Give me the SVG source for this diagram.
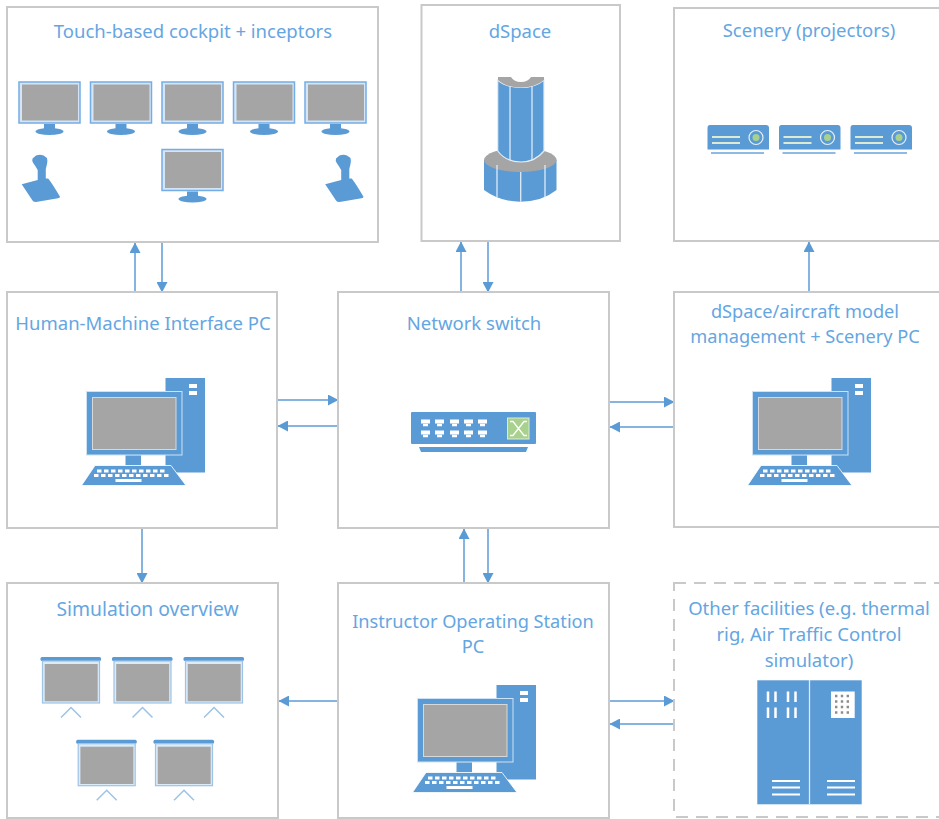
<svg xmlns="http://www.w3.org/2000/svg" width="939" height="819" viewBox="0 0 939 819">
<style>
.box{fill:#fff;stroke:#c9c9c9;stroke-width:2}
.dash{stroke-dasharray:12 8}
.t{font-family:"Noto Sans","Open Sans",sans-serif;font-size:18.5px;fill:#64a6e2;text-anchor:middle}
.b{fill:#5b9bd5}
.g{fill:#a5a5a5}
.c{stroke:#5b9bd5;stroke-width:1.5;fill:none;marker-end:url(#ah)}
.w{fill:#fff}
.chev{stroke:#9dc3e6;stroke-width:1.5;fill:none}
</style>
<defs>
<marker id="ah" markerUnits="userSpaceOnUse" markerWidth="11" markerHeight="11" refX="10" refY="5.500" orient="auto"><path d="M0 0L10.500 5.500L0 11z" fill="#5b9bd5"/></marker>
<g id="mon">
<rect x="19" y="82" width="61" height="41" fill="#d5e5f5" stroke="#74ade5" stroke-width="1.500"/>
<rect x="22" y="84.500" width="56" height="36" class="g"/>
<rect x="44" y="124" width="11" height="6" class="b"/>
<ellipse cx="49.500" cy="131.500" rx="14" ry="3.500" class="b"/>
</g>
<g id="joy">
<path class="b" d="M36 155.500Q40 154 43.500 155.500L47 158Q47.800 161 47 164L45.800 169V178.500L48 178.500Q50 180 60 196.700Q60 198 58 198.300L36 202Q33.500 202 32.500 200.500L21.700 184.300L37.700 180V170Q35.500 166 33.500 163.500Q31.500 161 32.500 158.500z"/>
</g>
<g id="proj">
<path class="b" d="M710 125H766Q769 125 769 128V149.500H707.500V128Q707.500 125 710 125z"/>
<path d="M712 137H740M712 143H740" stroke="#dcebd2" stroke-width="2"/>
<circle cx="756" cy="137.500" r="7" fill="none" stroke="#e6f0f8" stroke-width="1.200"/>
<circle cx="756" cy="137.500" r="3.500" fill="#a9d18e"/>
<path d="M711 153H764" stroke="#8dbbe6" stroke-width="1.800"/>
</g>
<g id="pc">
<rect x="165.500" y="378" width="39.500" height="94.500" class="b"/>
<rect x="189" y="384" width="8" height="4" class="w"/>
<rect x="189" y="391" width="8" height="4" class="w"/>
<rect x="86.500" y="391.500" width="95.500" height="63.500" class="b" stroke="#cfe2f5" stroke-width="1"/>
<rect x="92.500" y="397.500" width="83.500" height="52" class="g" stroke="#d8d8d8" stroke-width="1"/>
<rect x="125.500" y="455.500" width="15.500" height="10" class="b"/>
<path class="b" d="M95 465.500H171L186 485.500H81.500z" stroke="#fff" stroke-width="0.800"/>
<path d="M97 471H165M94 475.500H170" stroke="#fff" stroke-width="2.800" stroke-dasharray="4.500 2.500"/>
<rect x="115.500" y="479" width="26" height="3" class="w"/>
</g>
<g id="scr">
<rect x="40.500" y="657" width="60.500" height="4" rx="1.500" fill="#5b9bd5"/>
<rect x="42.500" y="661" width="57" height="42" fill="#dcebf8" stroke="#9dc3e6" stroke-width="1.200"/>
<rect x="44.700" y="664" width="53" height="37.300" class="g"/>
<path class="chev" d="M61 717.500L71 707.500L81 717.500"/>
</g>
</defs>

<g id="connectors">
<path class="c" d="M135 292V243"/>
<path class="c" d="M162 243V292"/>
<path class="c" d="M461 292V242"/>
<path class="c" d="M488 242V292"/>
<path class="c" d="M809 292V242"/>
<path class="c" d="M278 400H338"/>
<path class="c" d="M338 426H278"/>
<path class="c" d="M610 402H674"/>
<path class="c" d="M674 427H610"/>
<path class="c" d="M142 528V583"/>
<path class="c" d="M464 583V529"/>
<path class="c" d="M488 529V583"/>
<path class="c" d="M338 701H279"/>
<path class="c" d="M610 701H674"/>
<path class="c" d="M674 724H610"/>
</g>

<g id="cockpit">
<rect class="box" x="7" y="7" width="371" height="235"/>
<text class="t" x="193" y="38">Touch-based cockpit + inceptors</text>
<use href="#mon"/>
<use href="#mon" x="71.500"/>
<use href="#mon" x="143"/>
<use href="#mon" x="214.500"/>
<use href="#mon" x="286"/>
<use href="#mon" x="143" y="67.500"/>
<use href="#joy"/>
<use href="#joy" x="303.500"/>
</g>

<g id="dspace">
<rect class="box" x="421.500" y="5" width="198.500" height="236"/>
<text class="t" x="520" y="38">dSpace</text>
<path class="b" d="M484 160V190Q500 201.700 520 201.700Q542 201.700 556.500 190V160z"/>
<ellipse class="g" cx="520.300" cy="160" rx="36.300" ry="12"/>
<path d="M497 165V197M520.700 172V201.700M545 165V197" stroke="#dcebf8" stroke-width="1.300"/>
<path class="b" d="M497.700 80Q506 87.500 521 87.500Q535 87.500 544 80V151Q535 162 521 162Q506 162 497.700 151z" stroke="#e4eef8" stroke-width="1.200"/>
<path class="g" d="M498 77H511Q514 82 521 82Q528 82 531 77H544V80Q535 87.500 521 87.500Q506 87.500 498 80z"/>
<path d="M510 86V160.500M532 86V160.500" stroke="#dcebf8" stroke-width="1.300" fill="none"/>
</g>

<g id="scenery">
<rect class="box" x="674" y="8" width="270" height="233"/>
<text class="t" x="809" y="37">Scenery (projectors)</text>
<use href="#proj"/>
<use href="#proj" x="71.500"/>
<use href="#proj" x="143"/>
</g>

<g id="hmi">
<rect class="box" x="7" y="292" width="270" height="236"/>
<text class="t" x="143" y="330">Human-Machine Interface PC</text>
<use href="#pc"/>
</g>

<g id="switch">
<rect class="box" x="338" y="292" width="271" height="236"/>
<text class="t" x="474" y="330">Network switch</text>
<rect class="b" x="411" y="412" width="125" height="32" rx="1"/>
<path d="M421 421.500H430M435 421.500H444M450 421.500H459M464 421.500H473M478 421.500H487M421 432.500H430M435 432.500H444M450 432.500H459M464 432.500H473M478 432.500H487" stroke="#fff" stroke-width="4"/>
<path d="M423 425H428M437 425H442M452 425H457M466 425H471M480 425H485M423 436H428M437 436H442M452 436H457M466 436H471M480 436H485" stroke="#fff" stroke-width="2.500"/>
<rect x="507.500" y="418" width="21.500" height="21" fill="#a9d18e" stroke="#dcebd2" stroke-width="1"/>
<path d="M510 421.500H513L524 435.500H527M510 435.500H513L524 421.500H527" stroke="#fff" stroke-width="1.300" fill="none"/>
<path class="b" d="M419 447H528L526 452H421z"/>
</g>

<g id="management">
<rect class="box" x="674" y="292" width="270" height="235"/>
<text class="t" style="font-size:18.200px"><tspan x="805" y="318">dSpace/aircraft model</tspan><tspan x="805" y="343">management + Scenery PC</tspan></text>
<use href="#pc" x="666"/>
</g>

<g id="overview">
<rect class="box" x="7" y="583" width="271" height="235"/>
<text class="t" x="147.500" y="616" style="font-size:19.300px">Simulation overview</text>
<use href="#scr"/>
<use href="#scr" x="71.500"/>
<use href="#scr" x="143"/>
<use href="#scr" x="35.700" y="82.700"/>
<use href="#scr" x="113" y="82.700"/>
</g>

<g id="ios">
<rect class="box" x="338" y="583" width="271" height="235"/>
<text class="t" style="font-size:18.200px"><tspan x="473" y="628">Instructor Operating Station</tspan><tspan x="473" y="653">PC</tspan></text>
<use href="#pc" x="331" y="307"/>
</g>

<g id="other">
<rect class="box dash" x="674" y="583" width="270" height="234"/>
<text class="t"><tspan x="809" y="615">Other facilities (e.g. thermal</tspan><tspan x="809" y="641">rig, Air Traffic Control</tspan><tspan x="809" y="667">simulator)</tspan></text>
<rect class="b" x="757.300" y="680.300" width="104.400" height="124"/>
<path d="M809.500 680V804.300" stroke="#dcebf8" stroke-width="1.300"/>
<path d="M768 691.500V702M775.500 691.500V702M788 691.500V702M795.500 691.500V702M768 707.500V718M775.500 707.500V718M788 707.500V718M795.500 707.500V718" stroke="#fff" stroke-width="2.500"/>
<rect class="w" x="831" y="691.500" width="23.700" height="26.500"/>
<path d="M835 696H851M835 701.500H851M835 707H851M835 712.500H851" stroke="#8c8c8c" stroke-width="2.400" stroke-dasharray="2.400 3.400"/>
<path d="M772 781H800M772 787.500H800M772 794.500H800M827 781H855M827 787.500H855M827 794.500H855" stroke="#fff" stroke-width="1.800"/>
</g>
</svg>
